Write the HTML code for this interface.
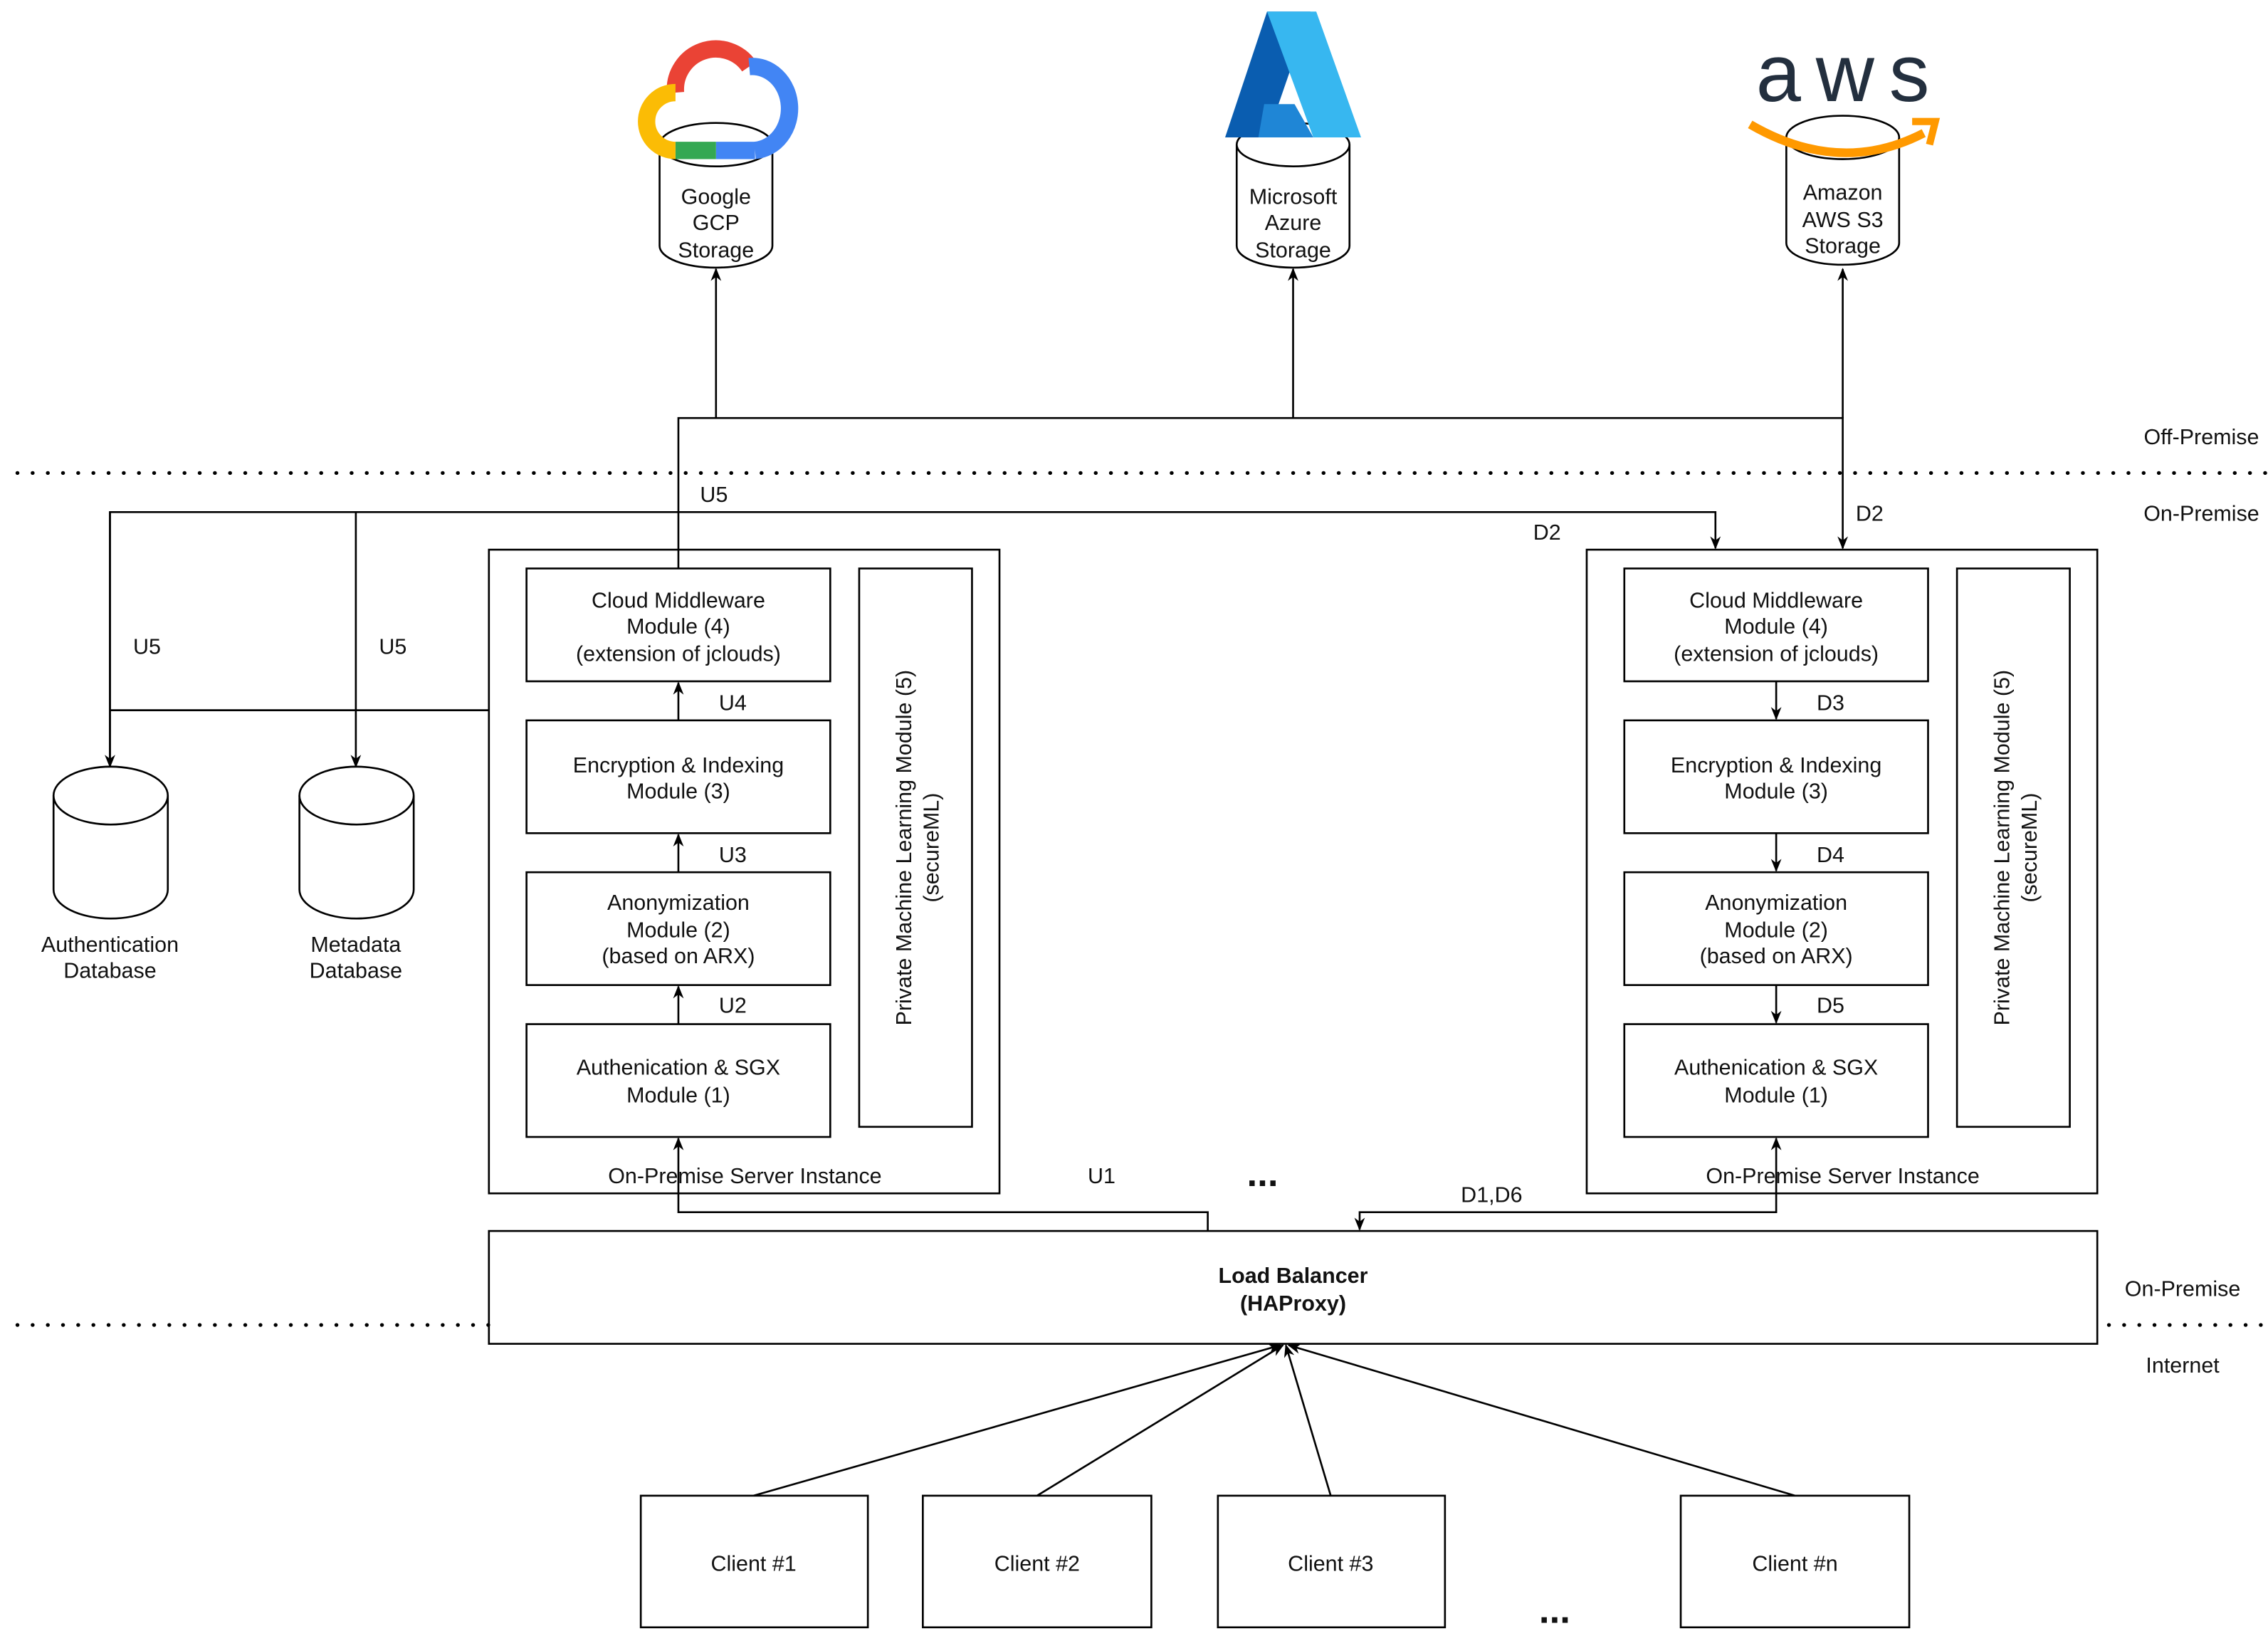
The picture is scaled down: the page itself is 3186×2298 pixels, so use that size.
<!DOCTYPE html>
<html><head><meta charset="utf-8"><style>
html,body{margin:0;padding:0;background:#fff}
svg{display:block}
text{font-family:"Liberation Sans",Arial,sans-serif;font-size:15px;fill:#111}
</style></head><body>
<svg width="3186" height="2298" viewBox="0 0 1568 1131" xmlns="http://www.w3.org/2000/svg">
<defs>
<marker id="a" viewBox="0 0 10 10" refX="9" refY="5" markerWidth="7" markerHeight="7" orient="auto-start-reverse"><path d="M0,1 L10,5 L0,9 L3,5 z" fill="#000"/></marker>
</defs>
<g stroke="#000" stroke-width="1.3" fill="none">
<!-- dotted lines -->
<line x1="12" y1="327" x2="1568" y2="327" stroke-dasharray="0.1,10.4" stroke-width="2.6" stroke-linecap="round"/>
<line x1="12" y1="916" x2="338" y2="916" stroke-dasharray="0.1,10.4" stroke-width="2.6" stroke-linecap="round"/>
<line x1="1458" y1="916" x2="1568" y2="916" stroke-dasharray="0.1,10.4" stroke-width="2.6" stroke-linecap="round"/>
<!-- cloud connectors -->
<line x1="495" y1="289" x2="495" y2="186" marker-end="url(#a)"/>
<line x1="894" y1="289" x2="894" y2="186" marker-end="url(#a)"/>
<line x1="1274" y1="289" x2="1274" y2="186" marker-end="url(#a)"/>
<polyline points="469,393 469,289 1274,289 1274,379" marker-end="url(#a)"/>
<!-- U5 -->
<polyline points="76,530 76,354 1186,354 1186,379" marker-end="url(#a)"/>
<line x1="76" y1="354" x2="76" y2="530" marker-end="url(#a)"/>
<line x1="246" y1="354" x2="246" y2="530" marker-end="url(#a)"/>
<line x1="76" y1="491" x2="338" y2="491"/>
<!-- server instances -->
<rect x="338" y="380" width="353" height="445"/>
<rect x="1097" y="380" width="353" height="445"/>
<rect x="364" y="393" width="210" height="78"/>
<rect x="364" y="498" width="210" height="78"/>
<rect x="364" y="603" width="210" height="78"/>
<rect x="364" y="708" width="210" height="78"/>
<rect x="594" y="393" width="78" height="386"/>
<rect x="1123" y="393" width="210" height="78"/>
<rect x="1123" y="498" width="210" height="78"/>
<rect x="1123" y="603" width="210" height="78"/>
<rect x="1123" y="708" width="210" height="78"/>
<rect x="1353" y="393" width="78" height="386"/>
<!-- internal arrows -->
<line x1="469" y1="498" x2="469" y2="472" marker-end="url(#a)"/>
<line x1="469" y1="603" x2="469" y2="577" marker-end="url(#a)"/>
<line x1="469" y1="708" x2="469" y2="682" marker-end="url(#a)"/>
<line x1="1228" y1="471" x2="1228" y2="497" marker-end="url(#a)"/>
<line x1="1228" y1="576" x2="1228" y2="602" marker-end="url(#a)"/>
<line x1="1228" y1="681" x2="1228" y2="707" marker-end="url(#a)"/>
<!-- load balancer -->
<rect x="338" y="851" width="1112" height="78"/>
<polyline points="835,851 835,838 469,838 469,787" marker-end="url(#a)"/>
<polyline points="1228,787 1228,838 940,838 940,850" marker-start="url(#a)" marker-end="url(#a)"/>
<!-- clients -->
<rect x="443" y="1034" width="157" height="91"/>
<rect x="638" y="1034" width="158" height="91"/>
<rect x="842" y="1034" width="157" height="91"/>
<rect x="1162" y="1034" width="158" height="91"/>
<line x1="521" y1="1034" x2="885" y2="930" marker-end="url(#a)"/>
<line x1="717" y1="1034" x2="887" y2="930" marker-end="url(#a)"/>
<line x1="920" y1="1034" x2="889" y2="930" marker-end="url(#a)"/>
<line x1="1241" y1="1034" x2="891" y2="930" marker-end="url(#a)"/>
<!-- DB cylinders -->
<path d="M37,550 L37,615 A39.5,20 0 0 0 116,615 L116,550" fill="#fff"/>
<ellipse cx="76.5" cy="550" rx="39.5" ry="20" fill="#fff"/>
<path d="M207,550 L207,615 A39.5,20 0 0 0 286,615 L286,550" fill="#fff"/>
<ellipse cx="246.5" cy="550" rx="39.5" ry="20" fill="#fff"/>
<!-- cloud cylinders -->
<path d="M456,100 L456,170 A39,15 0 0 0 534,170 L534,100" fill="#fff"/>
<ellipse cx="495" cy="100" rx="39" ry="15" fill="#fff"/>
<path d="M855,100 L855,170 A39,15 0 0 0 933,170 L933,100" fill="#fff"/>
<ellipse cx="894" cy="100" rx="39" ry="15" fill="#fff"/>
<path d="M1235,95 L1235,168 A39,15 0 0 0 1313,168 L1313,95" fill="#fff"/>
<ellipse cx="1274" cy="95" rx="39" ry="15" fill="#fff"/>
</g>
<!-- GCP logo -->
<g fill="none" stroke-width="12">
<path d="M467,64 A28,28 0 0 1 518,46" stroke="#ea4335"/>
<path d="M518,46 A24,27 0 0 1 522,104" stroke="#4285f4"/>
<path d="M522,104 L495,104" stroke="#4285f4"/>
<path d="M495,104 L467,104" stroke="#34a853"/>
<path d="M467,104 A20,20 0 0 1 467,64" stroke="#fbbc05"/>
</g>
<!-- Azure logo -->
<path d="M876,8 L906,8 L876,95 L847,95 Z" fill="#0a5db0"/>
<path d="M876,8 L910,8 L941,95 L908,95 Z" fill="#37b7f0"/>
<path d="M874,72 L895,72 L908,95 L870,95 Z" fill="#1f86d6"/>
<!-- AWS logo -->
<text x="1274" y="70" text-anchor="middle" textLength="120" style="font-size:56px;fill:#232f3e">aws</text>
<path d="M1210,86 Q1272,122 1330,92" stroke="#ff9900" stroke-width="6" fill="none"/>
<path d="M1322,84 L1338,84 L1334,100" stroke="#ff9900" stroke-width="5" fill="none"/>
<!-- texts -->
<g text-anchor="middle">
<text x="495" y="141">Google</text><text x="495" y="159">GCP</text><text x="495" y="178">Storage</text>
<text x="894" y="141">Microsoft</text><text x="894" y="159">Azure</text><text x="894" y="178">Storage</text>
<text x="1274" y="138">Amazon</text><text x="1274" y="157">AWS S3</text><text x="1274" y="175">Storage</text>
<text x="76" y="658">Authentication</text><text x="76" y="676">Database</text>
<text x="246" y="658">Metadata</text><text x="246" y="676">Database</text>
<text x="469" y="420">Cloud Middleware</text><text x="469" y="438">Module (4)</text><text x="469" y="457">(extension of jclouds)</text>
<text x="469" y="534">Encryption &amp; Indexing</text><text x="469" y="552">Module (3)</text>
<text x="469" y="629">Anonymization</text><text x="469" y="648">Module (2)</text><text x="469" y="666">(based on ARX)</text>
<text x="469" y="743">Authenication &amp; SGX</text><text x="469" y="762">Module (1)</text>
<text x="515" y="818">On-Premise Server Instance</text>
<text x="1228" y="420">Cloud Middleware</text><text x="1228" y="438">Module (4)</text><text x="1228" y="457">(extension of jclouds)</text>
<text x="1228" y="534">Encryption &amp; Indexing</text><text x="1228" y="552">Module (3)</text>
<text x="1228" y="629">Anonymization</text><text x="1228" y="648">Module (2)</text><text x="1228" y="666">(based on ARX)</text>
<text x="1228" y="743">Authenication &amp; SGX</text><text x="1228" y="762">Module (1)</text>
<text x="1274" y="818">On-Premise Server Instance</text>
<text transform="translate(630,586) rotate(-90)">Private Machine Learning Module (5)</text>
<text transform="translate(649,586) rotate(-90)">(secureML)</text>
<text transform="translate(1389,586) rotate(-90)">Private Machine Learning Module (5)</text>
<text transform="translate(1408,586) rotate(-90)">(secureML)</text>
<text x="894" y="887" style="font-weight:bold">Load Balancer</text>
<text x="894" y="906" style="font-weight:bold">(HAProxy)</text>
<text x="521" y="1086">Client #1</text><text x="717" y="1086">Client #2</text>
<text x="920" y="1086">Client #3</text><text x="1241" y="1086">Client #n</text>
<text x="1522" y="307">Off-Premise</text><text x="1522" y="360">On-Premise</text>
<text x="1509" y="896">On-Premise</text><text x="1509" y="949">Internet</text>
</g>
<text x="484" y="347">U5</text><text x="92" y="452">U5</text><text x="262" y="452">U5</text>
<text x="1060" y="373">D2</text><text x="1283" y="360">D2</text>
<text x="497" y="491">U4</text><text x="497" y="596">U3</text><text x="497" y="700">U2</text>
<text x="1256" y="491">D3</text><text x="1256" y="596">D4</text><text x="1256" y="700">D5</text>
<text x="752" y="818">U1</text><text x="1010" y="831">D1,D6</text>
<text x="862" y="820" style="font-size:26px;font-weight:bold">...</text>
<text x="1064" y="1122" style="font-size:26px;font-weight:bold">...</text>
</svg>
</body></html>
